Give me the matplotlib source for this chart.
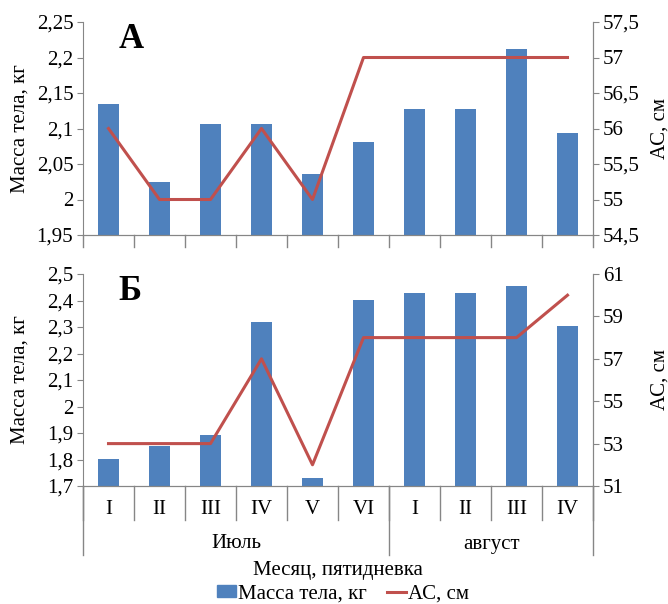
import matplotlib
matplotlib.use("Agg")
import matplotlib.pyplot as plt
import matplotlib.transforms as mtrans
from matplotlib.lines import Line2D
from matplotlib.patches import Patch
from matplotlib.ticker import FuncFormatter, FixedLocator

plt.rcParams['font.family'] = ['Liberation Serif', 'DejaVu Serif']

# data
pentads = ['I', 'II', 'III', 'IV', 'V', 'VI', 'I', 'II', 'III', 'IV']
months = ['Июль', 'август']
month_sizes = [6, 4]

mass_a = [2.135, 2.024, 2.107, 2.107, 2.036, 2.081, 2.128, 2.128, 2.212, 2.093]
ac_a = [56, 55, 55, 56, 55, 57, 57, 57, 57, 57]

mass_b = [1.803, 1.850, 1.891, 2.317, 1.731, 2.401, 2.427, 2.427, 2.456, 2.305]
ac_b = [53, 53, 53, 57, 52, 58, 58, 58, 58, 60]

ticks_a_left = [1.95, 2.0, 2.05, 2.1, 2.15, 2.2, 2.25]
ticks_a_right = [54.5, 55, 55.5, 56, 56.5, 57, 57.5]
ticks_b_left = [1.7, 1.8, 1.9, 2.0, 2.1, 2.2, 2.3, 2.4, 2.5]
ticks_b_right = [51, 53, 55, 57, 59, 61]

bar_col = '#4F81BD'
line_col = '#C0504D'
spine_col = '#868686'
W, H = 668, 604
FS = 15


def comma(v, pos):
    return ('%g' % round(v, 4)).replace('.', ',')


def style(ax):
    for s in ax.spines.values():
        s.set_color(spine_col)
    ax.spines['top'].set_visible(False)
    ax.tick_params(axis='y', colors='black', color=spine_col, labelsize=FS, length=4, pad=3)
    ax.yaxis.set_major_formatter(FuncFormatter(comma))


fig = plt.figure(figsize=(W / 100, H / 100), dpi=100)

x = list(range(len(pentads)))
left, right = 83 / W, 593 / W
panels = [
    (22, 235, mass_a, ac_a, ticks_a_left, ticks_a_right, 'А'),
    (274, 486, mass_b, ac_b, ticks_b_left, ticks_b_right, 'Б'),
]

axes = []
for top, bot, mass, ac, tl, tr, letter in panels:
    ax = fig.add_axes([left, 1 - bot / H, right - left, (bot - top) / H])
    ax.bar(x, mass, width=0.4, color=bar_col, zorder=2)
    ax.set_xlim(-0.5, len(x) - 0.5)
    ax.set_ylim(tl[0], tl[-1])
    ax.yaxis.set_major_locator(FixedLocator(tl))
    ax.set_xticks([])
    ax.set_ylabel('Масса тела, кг', fontsize=FS)
    ax.yaxis.set_label_coords(-0.104, 0.5)
    style(ax)

    ax2 = ax.twinx()
    ax2.plot(x, ac, color=line_col, lw=2.2, zorder=3)
    ax2.set_ylim(tr[0], tr[-1])
    ax2.yaxis.set_major_locator(FixedLocator(tr))
    ax2.set_ylabel('АС, см', fontsize=FS)
    ax2.yaxis.set_label_coords(1.112, 0.5)
    style(ax2)
    ax2.spines['left'].set_visible(False)

    ax.text(0.07, 0.995, letter, transform=ax.transAxes, fontsize=25,
            fontweight='bold', va='top', ha='left')
    axes.append(ax)

# category separators, top panel
ax_a, ax_b = axes
tr_a = mtrans.blended_transform_factory(ax_a.transData, fig.transFigure)
for i in range(len(x) + 1):
    xv = i - 0.5
    ax_a.add_line(Line2D([xv, xv], [1 - 235 / H, 1 - 247 / H], transform=tr_a,
                         color=spine_col, lw=1, clip_on=False))

# two level category axis, bottom panel
tr_b = mtrans.blended_transform_factory(ax_b.transData, fig.transFigure)
for i, lab in enumerate(pentads):
    ax_b.text(i, 1 - 509 / H, lab, transform=tr_b, ha='center', va='center', fontsize=FS)
for i in range(len(x) + 1):
    xv = i - 0.5
    ax_b.add_line(Line2D([xv, xv], [1 - 486 / H, 1 - 520 / H], transform=tr_b,
                         color=spine_col, lw=1, clip_on=False))

start = 0
edges = [0]
for m, n in zip(months, month_sizes):
    ax_b.text(start + (n - 1) / 2, 1 - 544 / H, m, transform=tr_b, ha='center',
              va='center', fontsize=FS)
    start += n
    edges.append(start)
for e in edges:
    xv = e - 0.5
    ax_b.add_line(Line2D([xv, xv], [1 - 486 / H, 1 - 555 / H], transform=tr_b,
                         color=spine_col, lw=1, clip_on=False))

fig.text((left + right) / 2, 1 - 571 / H, 'Месяц, пятидневка', ha='center',
         va='center', fontsize=FS)

handles = [Patch(color=bar_col, label='Масса тела, кг'),
           Line2D([], [], color=line_col, lw=2.2, label='АС, см')]
fig.legend(handles=handles, loc='center', bbox_to_anchor=(343 / W, 1 - 594 / H),
           ncol=2, frameon=False, fontsize=FS, handlelength=0.9, handleheight=0.5,
           handletextpad=0.1, columnspacing=1.0, borderpad=0)

fig.savefig('out.png', dpi=100)
